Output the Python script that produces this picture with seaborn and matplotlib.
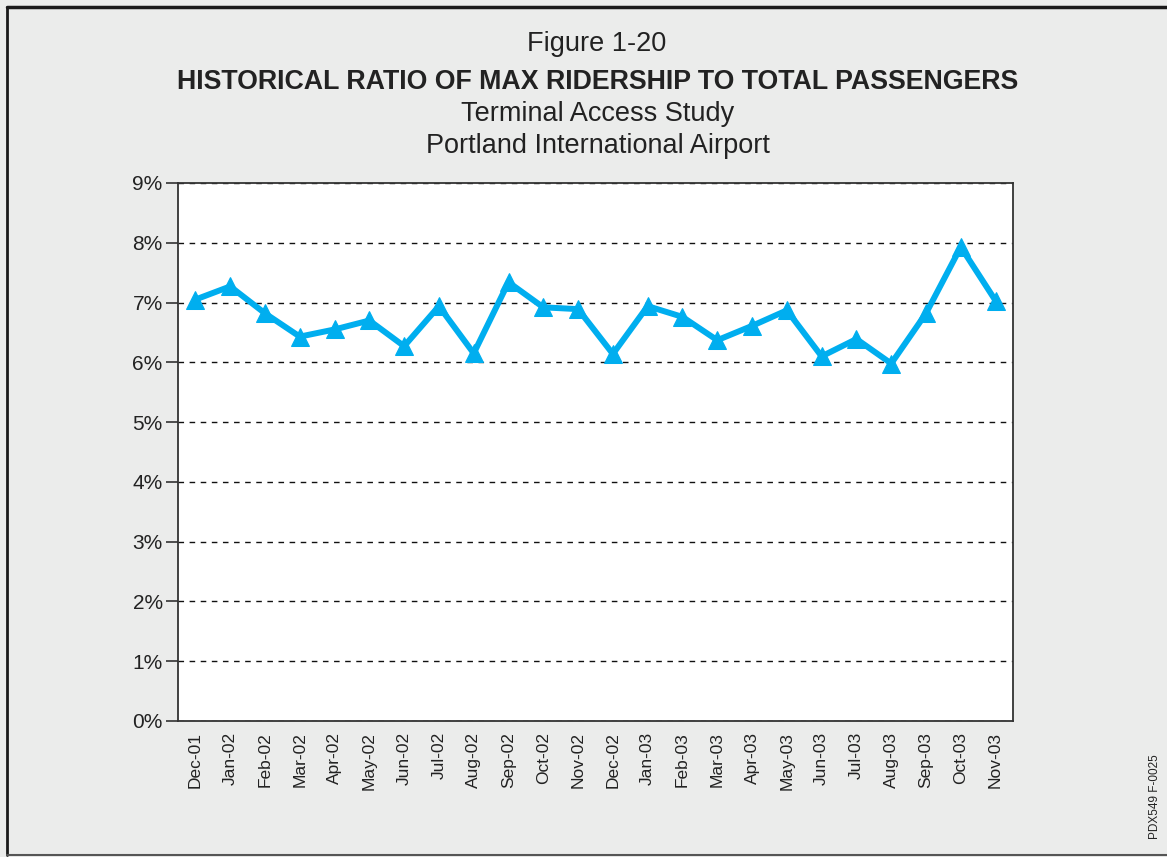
"""
Figure 1-20: historical ratio of MAX ridership to total passengers (PDX).
"""

import matplotlib.pyplot as plt
from matplotlib.lines import Line2D
from matplotlib.ticker import FuncFormatter, MultipleLocator
import pandas as pd
import seaborn as sns

# Data
months = ["Dec-01", "Jan-02", "Feb-02", "Mar-02", "Apr-02", "May-02", "Jun-02", "Jul-02",
          "Aug-02", "Sep-02", "Oct-02", "Nov-02", "Dec-02", "Jan-03", "Feb-03", "Mar-03",
          "Apr-03", "May-03", "Jun-03", "Jul-03", "Aug-03", "Sep-03", "Oct-03", "Nov-03"]
ratio_pct = [7.05, 7.27, 6.82, 6.43, 6.55, 6.70, 6.27, 6.94,
             6.15, 7.34, 6.92, 6.89, 6.14, 6.94, 6.76, 6.37,
             6.61, 6.87, 6.10, 6.39, 5.98, 6.82, 7.93, 7.03]

BG = "#ebeceb"
LINE = "#00aeef"
INK = "#222222"

sns.set_theme(style="white")
plt.rcParams["font.family"] = ["Liberation Sans", "DejaVu Sans"]

df = pd.DataFrame({"month": months, "ratio": ratio_pct})

fig = plt.figure(figsize=(11.67, 8.57), dpi=100, facecolor=BG)
ax = fig.add_axes([178 / 1167, 1 - 721 / 857, (1013 - 178) / 1167, (721 - 183) / 857])
ax.set_facecolor("white")

sns.lineplot(data=df, x="month", y="ratio", ax=ax, color=LINE, lw=4.3,
             marker="^", markersize=13, markeredgecolor=LINE, sort=False, zorder=3)

ax.set_xlim(-0.5, len(months) - 0.5)
ax.set_ylim(0, 9)
ax.yaxis.set_major_locator(MultipleLocator(1))
ax.yaxis.set_major_formatter(FuncFormatter(lambda v, _: f"{v:.0f}%"))
ax.grid(axis="y", color="#111111", ls=(0, (4, 4)), lw=1)
ax.set_xlabel("")
ax.set_ylabel("")

ax.tick_params(axis="y", direction="out", length=9, width=1.2, color="#333333",
               left=True, labelsize=15, labelcolor=INK, pad=2)
ax.tick_params(axis="x", length=0, labelsize=12.5, labelcolor=INK, pad=8)
plt.setp(ax.get_xticklabels(), rotation=90)

for sp in ax.spines.values():
    sp.set_color("#333333")
    sp.set_linewidth(1.3)

# Titles
fig.text(597 / 1167, 1 - 44 / 857, "Figure 1-20", ha="center", va="center",
         fontsize=19.5, color=INK)
fig.text(598 / 1167, 1 - 82 / 857, "HISTORICAL RATIO OF MAX RIDERSHIP TO TOTAL PASSENGERS",
         ha="center", va="center", fontsize=19.3, fontweight="bold", color=INK)
fig.text(598 / 1167, 1 - 114 / 857, "Terminal Access Study", ha="center", va="center",
         fontsize=19.5, color=INK)
fig.text(598 / 1167, 1 - 146 / 857, "Portland International Airport", ha="center", va="center",
         fontsize=19.5, color=INK)

fig.text(1155 / 1167, 1 - 797 / 857, "PDX549 F-0025", rotation=90, ha="center", va="center",
         fontsize=8.5, color=INK)

# Frame around the figure
fig.add_artist(Line2D([7 / 1167, 1], [1 - 7 / 857, 1 - 7 / 857], color="#1a1a1a", lw=2.5))
fig.add_artist(Line2D([7 / 1167, 7 / 1167], [1 - 7 / 857, 1 - 855 / 857], color="#1a1a1a", lw=2))
fig.add_artist(Line2D([7 / 1167, 1], [1 - 855 / 857, 1 - 855 / 857], color="#555555", lw=1.5))

fig.savefig("out.png", dpi=100, facecolor=BG)
